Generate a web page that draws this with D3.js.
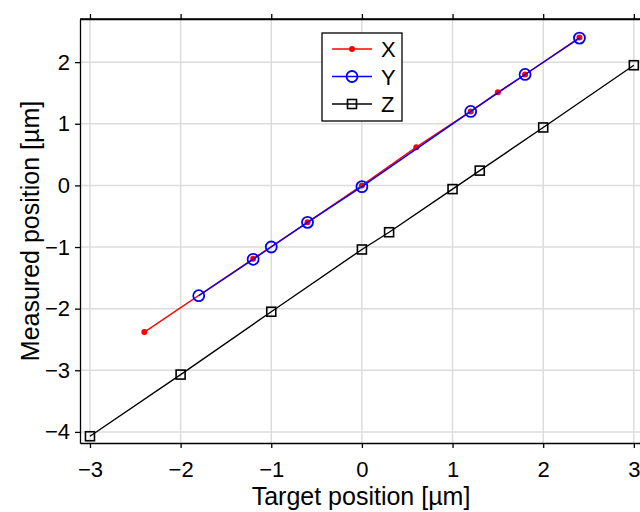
<!DOCTYPE html>
<html><head><meta charset="utf-8">
<script src="https://cdn.jsdelivr.net/npm/d3@7"></script>
<style>body{margin:0;background:#fff}svg{display:block;font-family:"Liberation Sans",Arial,sans-serif}</style>
</head><body><svg id="c" width="640" height="512"></svg>
<script>
const xTicks = [-3,-2,-1,0,1,2,3];
const yTicks = [-4,-3,-2,-1,0,1,2];
const seriesNames = ["X","Y","Z"];
const xTarget = [-2.4,-1.2,-0.6,0,0.6,1.2,1.5,1.8,2.4];
const xMeasured = [-2.38,-1.19,-0.6,0.0,0.62,1.2,1.51,1.8,2.4];
const yTarget = [-1.8,-1.2,-1.0,-0.6,0,1.2,1.8,2.4];
const yMeasured = [-1.79,-1.2,-1.0,-0.6,-0.02,1.2,1.8,2.39];
const zTarget = [-3,-2,-1,0,0.3,1,1.3,2,3];
const zMeasured = [-4.07,-3.07,-2.05,-1.04,-0.76,-0.06,0.24,0.94,1.95];

const svg = d3.select("#c");
const L=80, R=642, T=19, B=443;
const x = d3.scaleLinear().domain([-3.11,3.09]).range([L,R]);
const y = d3.scaleLinear().domain([-4.18,2.7]).range([B,T]);

svg.append("defs").append("clipPath").attr("id","clip").append("rect")
  .attr("x",L).attr("y",T).attr("width",R-L).attr("height",B-T);

// grid
const g = svg.append("g");
g.selectAll(".gx").data(xTicks).join("line")
  .attr("x1",d=>x(d)).attr("x2",d=>x(d)).attr("y1",T).attr("y2",B)
  .attr("stroke","#dcdcdc").attr("stroke-width",1.5);
g.selectAll(".gy").data(yTicks).join("line")
  .attr("y1",d=>y(d)).attr("y2",d=>y(d)).attr("x1",L).attr("x2",R)
  .attr("stroke","#dcdcdc").attr("stroke-width",1.5);

// axes
const fmt = d => d<0 ? "\u2212"+Math.abs(d) : String(d);
const ax = svg.append("g").attr("transform",`translate(0,${B})`)
  .call(d3.axisBottom(x).tickValues(xTicks).tickSize(5).tickSizeOuter(0).tickPadding(13).tickFormat(fmt));
const axT = svg.append("g").attr("transform",`translate(0,${T})`)
  .call(d3.axisTop(x).tickValues(xTicks).tickSize(5).tickSizeOuter(0).tickFormat(""));
const ay = svg.append("g").attr("transform",`translate(${L},0)`)
  .call(d3.axisLeft(y).tickValues(yTicks).tickSize(5).tickSizeOuter(0).tickPadding(5).tickFormat(fmt));
[ax,axT,ay].forEach(a=>{
  a.selectAll("path").attr("stroke","#000").attr("stroke-width",1.3);
  a.selectAll("line").attr("stroke","#000").attr("stroke-width",1.3);
  a.selectAll("text").attr("font-size",22).attr("fill","#000").attr("font-family","Liberation Sans, Arial, sans-serif");
});

// data
const plot = svg.append("g").attr("clip-path","url(#clip)");
const line = d3.line().x(d=>x(d[0])).y(d=>y(d[1]));
const zData = d3.zip(zTarget,zMeasured);
const xData = d3.zip(xTarget,xMeasured);
const yData = d3.zip(yTarget,yMeasured);

plot.append("path").datum(zData).attr("d",line).attr("fill","none").attr("stroke","#000").attr("stroke-width",1.4);
plot.selectAll(".zm").data(zData).join("rect")
  .attr("x",d=>x(d[0])-4.5).attr("y",d=>y(d[1])-4.5).attr("width",9).attr("height",9)
  .attr("fill","none").attr("stroke","#000").attr("stroke-width",1.6);

plot.append("path").datum(xData).attr("d",line).attr("fill","none").attr("stroke","#f00").attr("stroke-width",1.4);
plot.selectAll(".xm").data(xData).join("circle")
  .attr("cx",d=>x(d[0])).attr("cy",d=>y(d[1])).attr("r",3).attr("fill","#f00");

plot.append("path").datum(yData).attr("d",line).attr("fill","none").attr("stroke","#00f").attr("stroke-width",1.4);
plot.selectAll(".ym").data(yData).join("circle")
  .attr("cx",d=>x(d[0])).attr("cy",d=>y(d[1])).attr("r",5.5)
  .attr("fill","none").attr("stroke","#00f").attr("stroke-width",1.8);

// frame top
svg.append("line").attr("x1",L).attr("x2",R).attr("y1",T).attr("y2",T).attr("stroke","#000").attr("stroke-width",1.3);

// labels
svg.append("text").attr("x",361).attr("y",505).attr("text-anchor","middle")
  .attr("font-size",25).text("Target position [µm]");
svg.append("text").attr("transform","translate(39,231) rotate(-90)").attr("text-anchor","middle")
  .attr("font-size",25).text("Measured position [µm]");

// legend
const lg = svg.append("g");
lg.append("rect").attr("x",322).attr("y",33).attr("width",80).attr("height",88)
  .attr("fill","#fff").attr("stroke","#000").attr("stroke-width",1.3);
const colors = ["#f00","#00f","#000"];
seriesNames.forEach((n,i)=>{
  const yy = 49 + i*27.5;
  lg.append("line").attr("x1",332).attr("x2",372).attr("y1",yy).attr("y2",yy).attr("stroke",colors[i]).attr("stroke-width",1.4);
  if(i===0) lg.append("circle").attr("cx",352).attr("cy",yy).attr("r",3).attr("fill","#f00");
  if(i===1) lg.append("circle").attr("cx",352).attr("cy",yy).attr("r",5.5).attr("fill","none").attr("stroke","#00f").attr("stroke-width",1.8);
  if(i===2) lg.append("rect").attr("x",347.5).attr("y",yy-4.5).attr("width",9).attr("height",9).attr("fill","none").attr("stroke","#000").attr("stroke-width",1.6);
  lg.append("text").attr("x",381).attr("y",yy+8).attr("font-size",22).text(n);
});
</script></body></html>
